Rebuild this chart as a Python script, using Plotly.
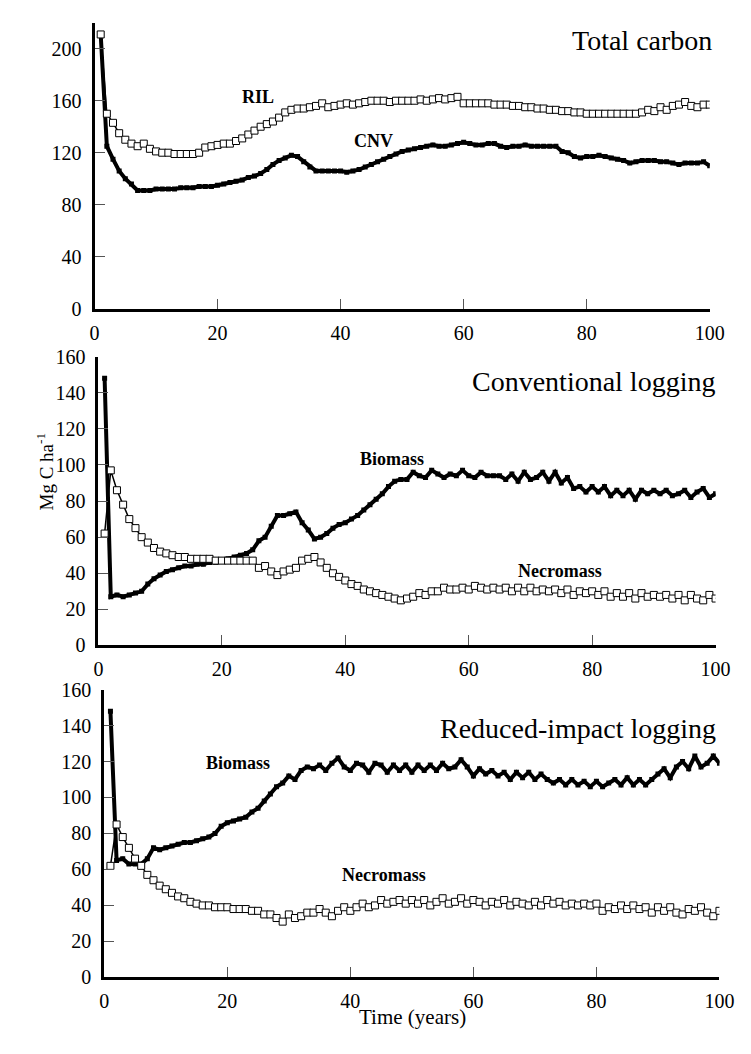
import plotly.graph_objects as go

# Simulation years
years = list(range(1, 101))

# Total carbon (Mg C ha-1): reduced-impact (RIL) and conventional (CNV) logging
total_ril = [211, 150, 143, 135, 130, 127, 125, 127, 123, 121,
             120, 120, 119, 119, 119, 119, 120, 124, 125, 126,
             127, 127, 129, 131, 134, 137, 140, 142, 144, 147,
             151, 153, 154, 154, 155, 156, 158, 155, 156, 157,
             158, 157, 158, 159, 160, 160, 160, 159, 160, 160,
             160, 160, 161, 160, 161, 162, 161, 162, 163, 158,
             158, 158, 158, 158, 157, 157, 157, 156, 156, 155,
             155, 154, 154, 153, 153, 152, 152, 151, 151, 150,
             150, 150, 150, 150, 150, 150, 150, 150, 151, 153,
             152, 155, 153, 156, 157, 159, 156, 155, 157, 157]
total_cnv = [211, 125, 115, 106, 100, 96, 91, 91, 91, 92,
             92, 92, 92, 93, 93, 93, 94, 94, 94, 95,
             96, 97, 98, 99, 101, 102, 104, 107, 111, 114,
             116, 118, 117, 113, 109, 106, 106, 106, 106, 106,
             105, 106, 107, 109, 111, 113, 115, 117, 119, 121,
             122, 123, 124, 125, 126, 125, 125, 126, 127, 128,
             127, 126, 126, 127, 127, 125, 124, 125, 125, 126,
             125, 125, 125, 125, 125, 121, 120, 117, 116, 117,
             117, 118, 117, 116, 115, 114, 112, 113, 114, 114,
             114, 113, 113, 112, 111, 112, 112, 112, 113, 110]

# Conventional logging: live biomass and necromass
cnv_biomass = [148, 27, 28, 27, 28, 29, 30, 34, 37, 39,
               41, 42, 43, 44, 44, 45, 45, 46, 46, 47,
               48, 49, 50, 51, 53, 58, 60, 66, 72, 72,
               73, 74, 68, 64, 59, 60, 62, 65, 67, 68,
               70, 72, 75, 78, 81, 84, 88, 91, 92, 92,
               96, 94, 93, 97, 95, 93, 95, 94, 97, 94,
               93, 96, 94, 94, 94, 92, 95, 91, 96, 92,
               93, 96, 91, 96, 90, 93, 87, 88, 85, 88,
               85, 88, 83, 86, 83, 86, 81, 86, 84, 86,
               84, 86, 83, 84, 86, 82, 85, 87, 82, 84]
cnv_necromass = [62, 97, 86, 78, 70, 65, 60, 57, 54, 52,
                 51, 50, 49, 49, 48, 48, 48, 48, 47, 47,
                 47, 47, 47, 47, 47, 43, 44, 41, 39, 41,
                 42, 43, 47, 48, 49, 46, 43, 40, 38, 36,
                 34, 33, 31, 30, 29, 28, 27, 26, 25, 26,
                 27, 29, 28, 30, 30, 32, 31, 31, 32, 31,
                 33, 32, 31, 32, 31, 32, 30, 32, 30, 32,
                 30, 31, 30, 31, 29, 31, 28, 30, 29, 30,
                 28, 30, 27, 29, 27, 29, 26, 29, 27, 28,
                 27, 28, 26, 28, 25, 28, 26, 25, 28, 26]

# Reduced-impact logging: live biomass and necromass
ril_biomass = [148, 65, 66, 63, 63, 63, 66, 72, 71, 72,
               73, 74, 75, 75, 76, 77, 78, 80, 84, 86,
               87, 88, 89, 92, 94, 98, 102, 106, 108, 112,
               110, 115, 117, 116, 118, 115, 119, 122, 117, 115,
               119, 118, 114, 119, 118, 114, 118, 115, 118, 114,
               118, 115, 118, 115, 119, 116, 117, 121, 117, 112,
               116, 113, 115, 112, 114, 110, 114, 111, 114, 110,
               113, 110, 108, 110, 107, 110, 107, 109, 106, 109,
               106, 108, 110, 107, 111, 107, 110, 107, 110, 113,
               116, 111, 117, 120, 116, 123, 117, 119, 123, 119]
ril_necromass = [62, 85, 78, 72, 66, 62, 57, 54, 51, 49,
                 47, 45, 44, 42, 41, 40, 40, 39, 39, 39,
                 38, 38, 38, 37, 37, 35, 35, 33, 31, 35,
                 33, 34, 36, 36, 38, 36, 34, 37, 39, 37,
                 39, 41, 39, 40, 43, 41, 42, 43, 41, 43,
                 41, 43, 40, 42, 44, 41, 42, 44, 41, 43,
                 42, 40, 42, 41, 43, 40, 42, 41, 40, 42,
                 40, 43, 41, 42, 40, 41, 40, 41, 40, 41,
                 37, 39, 38, 40, 38, 40, 38, 39, 36, 39,
                 37, 39, 36, 35, 38, 37, 39, 36, 34, 37]

x_ticks = [0, 20, 40, 60, 80, 100]

W, H = 751, 1054
SERIF = "Liberation Serif"


def px_x(v):
    return v / W


def px_y(v):
    return 1 - v / H


solid_line = dict(color="black", width=4)
solid_marker = dict(symbol="square", size=5, color="black")
open_line = dict(color="black", width=1.5)
open_marker = dict(symbol="square", size=7, color="white",
                   line=dict(color="black", width=1))

fig = go.Figure()

panels = [
    ("x", "y", total_cnv, total_ril),
    ("x2", "y2", cnv_biomass, cnv_necromass),
    ("x3", "y3", ril_biomass, ril_necromass),
]
for xa, ya, solid, hollow in panels:
    fig.add_trace(go.Scatter(x=years, y=solid, mode="lines+markers",
                             line=solid_line, marker=solid_marker,
                             xaxis=xa, yaxis=ya, showlegend=False))
    fig.add_trace(go.Scatter(x=years, y=hollow, mode="lines+markers",
                             line=open_line, marker=open_marker,
                             xaxis=xa, yaxis=ya, showlegend=False))

tick_font = dict(family=SERIF, size=20, color="black")
axis_common = dict(showline=True, linecolor="black", linewidth=3,
                   showgrid=False, zeroline=False, ticks="inside",
                   ticklen=10, tickwidth=1, tickcolor="#555",
                   tickfont=tick_font)

# pixel boxes for each panel: (left, right, top, bottom)
boxes = [(92, 724, 12, 304), (96, 730, 353, 648), (102, 734, 693, 987)]
y_ranges = [[0, 220], [0, 160], [0, 160]]
y_dticks = [40, 20, 20]

layout_axes = {}
for i, ((l, r, t, b), yr, dt) in enumerate(zip(boxes, y_ranges, y_dticks), start=1):
    sfx = "" if i == 1 else str(i)
    layout_axes["xaxis" + sfx] = dict(
        axis_common, domain=[px_x(l), px_x(r)], range=[0, 100],
        tickvals=x_ticks, anchor="y" + sfx, ticklabelstandoff=4)
    layout_axes["yaxis" + sfx] = dict(
        axis_common, domain=[px_y(b), px_y(t)], range=yr,
        dtick=dt, tick0=0, anchor="x" + sfx, ticklabelstandoff=6)

fig.update_layout(
    width=W, height=H,
    margin=dict(l=0, r=0, t=0, b=0),
    paper_bgcolor="white", plot_bgcolor="white",
    font=dict(family=SERIF, color="black"),
    **layout_axes,
)

title_font = dict(family=SERIF, size=28, color="black")
for text, xr, yc in [("Total carbon", 728, 30),
                     ("Conventional logging", 731, 378),
                     ("Reduced-impact logging", 732, 733)]:
    fig.add_annotation(text=text, xref="paper", yref="paper",
                       x=px_x(xr), y=px_y(yc), xanchor="right",
                       yanchor="middle", showarrow=False, font=title_font)

label_font = dict(family=SERIF, size=18, color="black")
series_labels = [
    ("RIL", "x", "y", 26.6, 163),
    ("CNV", "x", "y", 45.3, 129),
    ("Biomass", "x2", "y2", 47.6, 103.5),
    ("Necromass", "x2", "y2", 74.8, 41),
    ("Biomass", "x3", "y3", 21.8, 119),
    ("Necromass", "x3", "y3", 45.4, 57),
]
for text, xa, ya, xv, yv in series_labels:
    fig.add_annotation(text="<b>" + text + "</b>", xref=xa, yref=ya,
                       x=xv, y=yv, showarrow=False, font=label_font)

fig.add_annotation(text="Mg C ha<sup>-1</sup>", xref="paper", yref="paper",
                   x=px_x(27), y=px_y(470), textangle=-90, showarrow=False,
                   font=dict(family=SERIF, size=19, color="black"))
fig.add_annotation(text="Time (years)", xref="paper", yref="paper",
                   x=px_x(419), y=px_y(1042), showarrow=False,
                   font=dict(family=SERIF, size=21, color="black"))

fig.write_html("out.html")
